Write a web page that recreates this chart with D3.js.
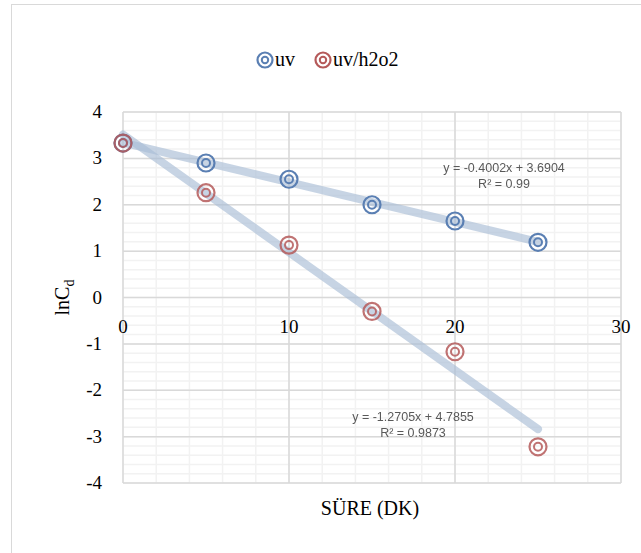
<!DOCTYPE html>
<html>
<head>
<meta charset="utf-8">
<script src="https://cdn.jsdelivr.net/npm/d3@7"></script>
<style>
  body { margin: 0; background: #fff; }
  svg { display: block; }
  .serif { font-family: 'Liberation Serif', 'Times New Roman', serif; }
  .sans { font-family: 'Liberation Sans', Arial, sans-serif; }
</style>
</head>
<body>
<svg id="chart"></svg>
<script>
// Data
const times = [0, 5, 10, 15, 20, 25];
const uvValues = [3.33, 2.9, 2.55, 2.0, 1.65, 1.19];
const uvH2o2Values = [3.33, 2.26, 1.13, -0.3, -1.17, -3.22];
const xTicks = [0, 10, 20, 30];
const yTicks = [-4, -3, -2, -1, 0, 1, 2, 3, 4];
const uvEquation = ['y = -0.4002x + 3.6904', 'R² = 0.99'];
const uvH2o2Equation = ['y = -1.2705x + 4.7855', 'R² = 0.9873'];

const width = 641, height = 553;

const svg = d3.select('#chart')
  .attr('width', width)
  .attr('height', height);

// outer chart border
svg.append('rect')
  .attr('x', 11.5).attr('y', 4.5)
  .attr('width', 700).attr('height', 700)
  .attr('fill', 'none')
  .attr('stroke', '#d9d9d9');

const xScale = d3.scaleLinear().domain([0, 30]).range([123, 621]);
const yScale = d3.scaleLinear().domain([-4, 4]).range([483, 112]);

const chart = svg.append('g');

// minor gridlines
const minorX = d3.range(0, 30.01, 2);
const minorY = d3.range(-4, 4.01, 0.2);
chart.selectAll('.minor-x')
  .data(minorX)
  .join('line')
  .attr('x1', d => xScale(d)).attr('x2', d => xScale(d))
  .attr('y1', yScale(4)).attr('y2', yScale(-4))
  .attr('stroke', '#f2f2f2').attr('stroke-width', 1.5);
chart.selectAll('.minor-y')
  .data(minorY)
  .join('line')
  .attr('y1', d => yScale(d)).attr('y2', d => yScale(d))
  .attr('x1', xScale(0)).attr('x2', xScale(30))
  .attr('stroke', '#f2f2f2').attr('stroke-width', 1.5);

// major gridlines
chart.selectAll('.major-x')
  .data(xTicks)
  .join('line')
  .attr('x1', d => xScale(d)).attr('x2', d => xScale(d))
  .attr('y1', yScale(4)).attr('y2', yScale(-4))
  .attr('stroke', '#d9d9d9').attr('stroke-width', 1.5);
chart.selectAll('.major-y')
  .data(yTicks)
  .join('line')
  .attr('y1', d => yScale(d)).attr('y2', d => yScale(d))
  .attr('x1', xScale(0)).attr('x2', xScale(30))
  .attr('stroke', '#d9d9d9').attr('stroke-width', 1.5);

// y tick labels
chart.selectAll('.ylab')
  .data(yTicks)
  .join('text')
  .attr('class', 'serif')
  .attr('x', 102)
  .attr('y', d => yScale(d) + 6)
  .attr('text-anchor', 'end')
  .style('font-size', '19px')
  .attr('fill', '#000')
  .text(d => d);

// x tick labels, axis crosses at y = 0
chart.selectAll('.xlab')
  .data(xTicks)
  .join('text')
  .attr('class', 'serif')
  .attr('x', d => xScale(d))
  .attr('y', yScale(0) + 35)
  .attr('text-anchor', 'middle')
  .style('font-size', '19px')
  .attr('fill', '#000')
  .text(d => d);

// axis titles
svg.append('text')
  .attr('class', 'serif')
  .attr('x', 370).attr('y', 515)
  .attr('text-anchor', 'middle')
  .style('font-size', '20px')
  .text('SÜRE (DK)');

const yTitle = svg.append('text')
  .attr('class', 'serif')
  .attr('transform', `translate(69,${yScale(0)}) rotate(-90)`)
  .attr('text-anchor', 'middle')
  .style('font-size', '20px');
yTitle.append('tspan').text('lnC');
yTitle.append('tspan').attr('dy', 5).style('font-size', '14px').text('d');

// least squares trendline from the data
function fit(xs, ys) {
  const mx = d3.mean(xs), my = d3.mean(ys);
  const sxy = d3.sum(xs, (x, i) => (x - mx) * (ys[i] - my));
  const sxx = d3.sum(xs, x => (x - mx) * (x - mx));
  const b = sxy / sxx;
  return { b, a: my - b * mx };
}

const series = [
  { name: 'uv', values: uvValues, color: '#5a7fb3', eq: uvEquation, eqPos: [504, 172], opacity: 1 },
  { name: 'uv/h2o2', values: uvH2o2Values, color: '#b55a5a', eq: uvH2o2Equation, eqPos: [413, 421], opacity: 0.85 }
];

series.forEach(s => {
  const f = fit(times, s.values);
  const x0 = times[0], x1 = times[times.length - 1];
  chart.append('line')
    .attr('x1', xScale(x0)).attr('y1', yScale(f.a + f.b * x0))
    .attr('x2', xScale(x1)).attr('y2', yScale(f.a + f.b * x1))
    .attr('stroke', '#a9bdd6')
    .attr('stroke-opacity', 0.65)
    .attr('stroke-width', 8)
    .attr('stroke-linecap', 'round');
});

series.forEach(s => {
  const g = chart.append('g').attr('opacity', s.opacity);
  const pts = g.selectAll('g')
    .data(times.map((t, i) => [t, s.values[i]]))
    .join('g')
    .attr('transform', d => `translate(${xScale(d[0])},${yScale(d[1])})`);
  pts.append('circle').attr('r', 8.5).attr('fill', 'none').attr('stroke', s.color).attr('stroke-width', 2.2);
  pts.append('circle').attr('r', 4).attr('fill', 'none').attr('stroke', s.color).attr('stroke-width', 2);
});

// equations
series.forEach(s => {
  svg.selectAll(null)
    .data(s.eq)
    .join('text')
    .attr('class', 'sans')
    .attr('x', s.eqPos[0])
    .attr('y', (d, i) => s.eqPos[1] + i * 16)
    .attr('text-anchor', 'middle')
    .style('font-size', '12.5px')
    .attr('fill', '#595959')
    .text(d => d);
});

// legend
const legendX = [265, 323];
series.forEach((s, i) => {
  const lg = svg.append('g').attr('transform', `translate(${legendX[i]},60)`);
  lg.append('circle').attr('r', 7.5).attr('fill', 'none').attr('stroke', s.color).attr('stroke-width', 2.2);
  lg.append('circle').attr('r', 3.2).attr('fill', 'none').attr('stroke', s.color).attr('stroke-width', 2);
  lg.append('text')
    .attr('class', 'serif')
    .attr('x', 10).attr('y', 6)
    .style('font-size', '20px')
    .text(s.name);
});
</script>
</body>
</html>
